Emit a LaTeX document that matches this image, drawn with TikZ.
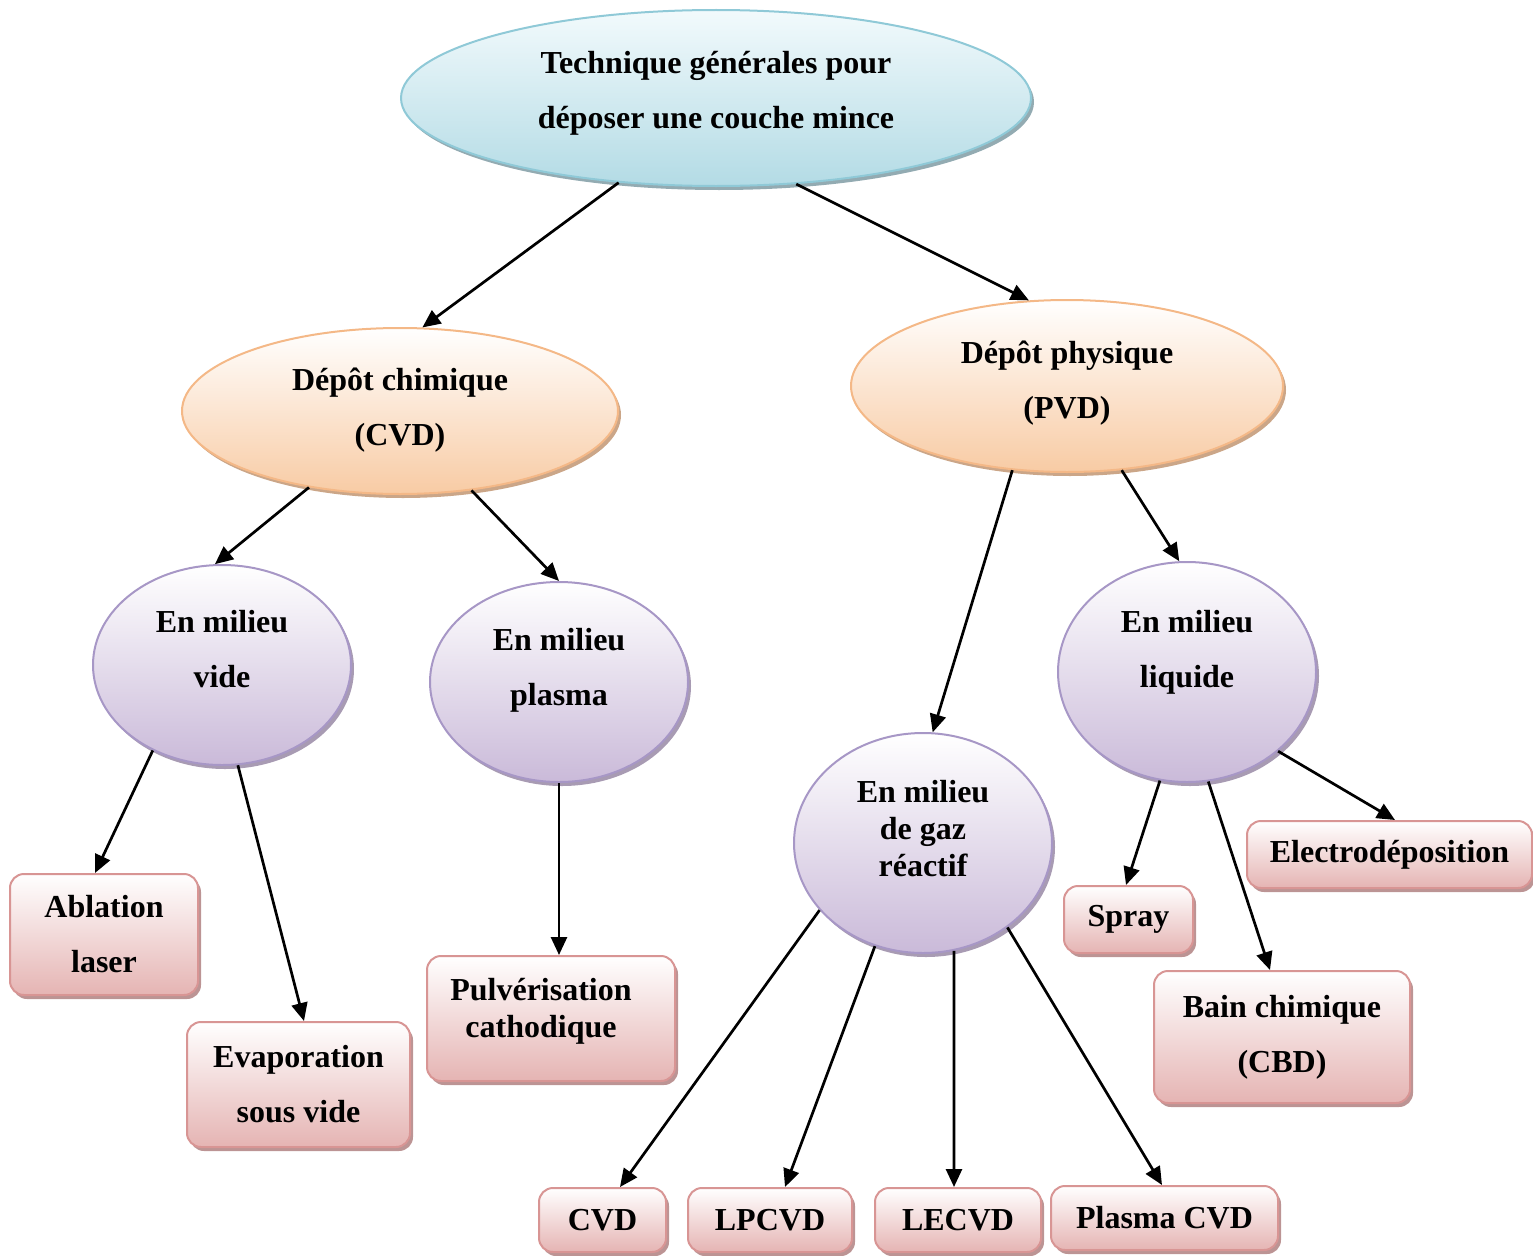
\documentclass[tikz,border=0pt]{standalone}
\usepackage{fontspec}
\setmainfont{Liberation Serif}
\usetikzlibrary{shapes.geometric,shadows,arrows.meta}
\definecolor{blueB}{HTML}{B3DBE5}
\definecolor{blueT}{HTML}{F2FAFC}
\definecolor{blueD}{HTML}{8FC9D7}
\definecolor{blueS}{HTML}{93ABB2}
\definecolor{peachB}{HTML}{F8CBA4}
\definecolor{peachD}{HTML}{F4B887}
\definecolor{peachS}{HTML}{CBA688}
\definecolor{purpB}{HTML}{CABAD9}
\definecolor{purpD}{HTML}{A797C6}
\definecolor{purpS}{HTML}{A89BB3}
\definecolor{pinkB}{HTML}{E5B4B3}
\definecolor{pinkD}{HTML}{D89594}
\definecolor{pinkS}{HTML}{BC9494}
\tikzset{
  txt/.style={font=\fontsize{32}{37}\selectfont\bfseries, align=center, inner sep=0pt},
  oval/.style={ellipse, inner sep=0pt, line width=2pt, top color=white},
  blueoval/.style={oval, draw=blueD, top color=blueT, bottom color=blueB,
    drop shadow={shadow xshift=3pt,shadow yshift=-4pt,fill=blueS,opacity=1}},
  peachoval/.style={oval, draw=peachD, bottom color=peachB,
    drop shadow={shadow xshift=3pt,shadow yshift=-4pt,fill=peachS,opacity=1}},
  purpoval/.style={oval, draw=purpD, bottom color=purpB,
    drop shadow={shadow xshift=3pt,shadow yshift=-4pt,fill=purpS,opacity=1}},
  box/.style={txt, rounded corners=14pt, draw=pinkD, line width=2pt,
    top color=white, bottom color=pinkB,
    drop shadow={shadow xshift=3pt,shadow yshift=-4pt,fill=pinkS,opacity=1}},
  arr/.style={line width=2.7pt, -{Triangle[length=18pt,width=16pt]}}
}
\begin{document}
\begin{tikzpicture}[x=1pt,y=-1pt]
\useasboundingbox (0,0) rectangle (1533,1255);
% ovals
\node[blueoval, minimum width=630pt, minimum height=176pt] (top) at (716,98) {};
\node[peachoval, minimum width=436pt, minimum height=166pt] (chim) at (400,411) {};
\node[peachoval, minimum width=432pt, minimum height=172pt] (phys) at (1067,386) {};
\node[purpoval, minimum width=258pt, minimum height=200pt] (vide) at (222,665) {};
\node[purpoval, minimum width=258pt, minimum height=200pt] (plasma) at (559,682) {};
\node[purpoval, minimum width=258pt, minimum height=220pt] (liq) at (1187,672) {};
\node[purpoval, minimum width=258pt, minimum height=220pt] (gaz) at (923,843) {};
% oval texts
\node[txt] (toptxt) at (716,93.5) {Technique générales pour\\[18pt]déposer une couche mince};
\node[txt] (chimtxt) at (400,410) {Dépôt chimique\\[18pt](CVD)};
\node[txt] (phystxt) at (1067,383) {Dépôt physique\\[18pt](PVD)};
\node[txt] (videtxt) at (222,649.5) {En milieu\\[18pt]vide};
\node[txt] (plasmatxt) at (559,670) {En milieu\\[18pt]plasma};
\node[txt] (liqtxt) at (1187,652.5) {En milieu\\[18pt]liquide};
\node[txt] (gaztxt) at (923,829) {En milieu\\de gaz\\réactif};
% boxes
\node[box, minimum width=188pt, minimum height=121pt] (abl) at (104,934.5) {Ablation\\[18pt]laser};
\node[box, minimum width=223pt, minimum height=125pt] (evap) at (298.5,1084.5) {Evaporation\\[18pt]sous vide};
\node[box, minimum width=248pt, minimum height=125pt] (pulv) at (551,1018.5) {};
\node[txt] (pulvtxt) at (541,1011) {Pulvérisation\\cathodique};
\node[box, minimum width=285pt, minimum height=67pt] (elec) at (1389.5,854.5) {Electrodéposition};
\node[box, minimum width=129pt, minimum height=67pt] (spray) at (1128.5,919.5) {Spray};
\node[box, minimum width=256pt, minimum height=132pt] (bain) at (1282,1037) {Bain chimique\\[18pt](CBD)};
\node[box, minimum width=127pt, minimum height=64pt] (cvd) at (602.5,1220) {CVD};
\node[box, minimum width=164pt, minimum height=64pt] (lpcvd) at (770,1220) {LPCVD};
\node[box, minimum width=166pt, minimum height=64pt] (lecvd) at (958,1220) {LECVD};
\node[box, minimum width=227pt, minimum height=64pt] (pcvd) at (1164.5,1218) {Plasma CVD};
% connectors
\draw[arr] (top.221) -- (chim.75);
\draw[arr] (top.313) -- (phys.114);
\draw[arr] (chim.220) -- (vide.94);
\draw[arr] (chim.312) -- (plasma.90);
\draw[arr] (phys.237) -- (gaz.85);
\draw[arr] (phys.303) -- (liq.94);
\draw[arr] (vide.231) -- ([xshift=-9pt]abl.north);
\draw[arr] (vide.279) -- ([xshift=5.5pt]evap.north);
\draw[arr] (plasma.270) -- ([xshift=8pt]pulv.north);
\draw[arr] (liq.319) -- ([xshift=5.5pt]elec.north);
\draw[arr] (liq.256) -- ([xshift=-2.5pt]spray.north);
\draw[arr] (liq.281) -- ([xshift=-12pt]bain.north);
\draw[arr] (gaz.213) -- ([xshift=17.5pt]cvd.north);
\draw[arr] (gaz.245) -- ([xshift=15pt]lpcvd.north);
\draw[arr] (gaz.286) -- ([xshift=-4pt]lecvd.north);
\draw[arr] (gaz.315) -- ([xshift=-2.5pt]pcvd.north);
\end{tikzpicture}
\end{document}
